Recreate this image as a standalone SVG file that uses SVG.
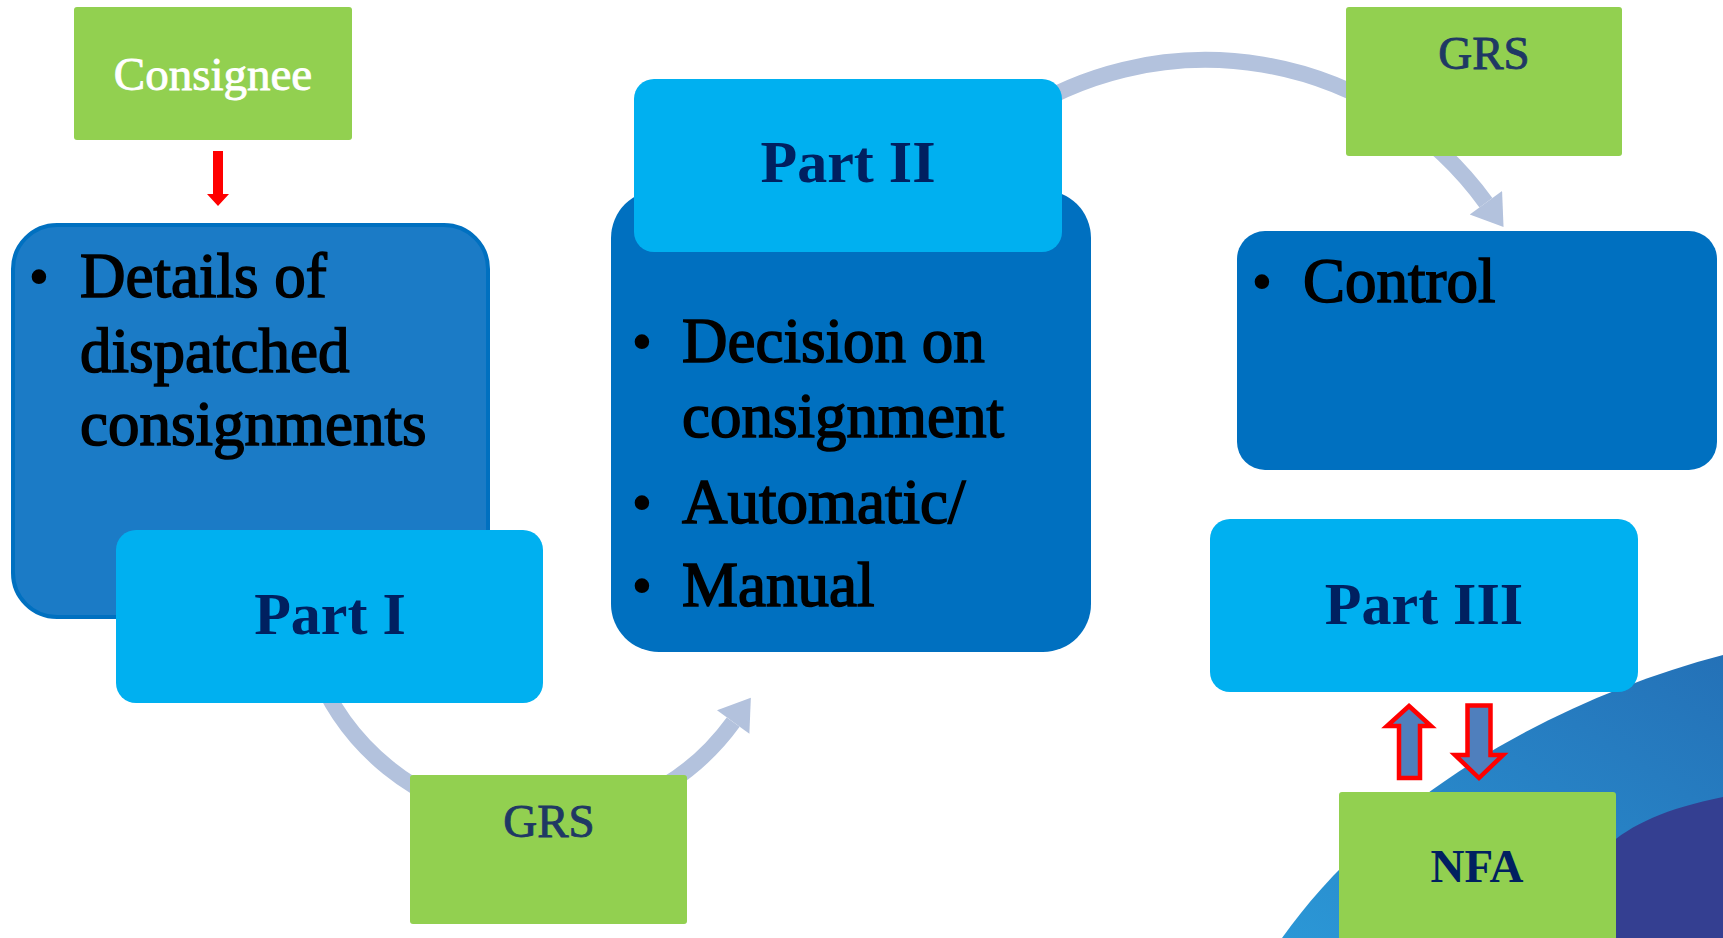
<svg xmlns="http://www.w3.org/2000/svg" width="1723" height="938" viewBox="0 0 1723 938">
<defs>
<linearGradient id="bgBlue" x1="0" y1="1" x2="1" y2="0">
<stop offset="0" stop-color="#2b97d6"/>
<stop offset="1" stop-color="#2471b7"/>
</linearGradient>
<marker id="arcHead" markerUnits="userSpaceOnUse" markerWidth="40" markerHeight="40" refX="0" refY="18" orient="auto" viewBox="0 0 30 36">
<path d="M0,0 L27,18 L0,36 Z" fill="#b3c2dd"/>
</marker>
<style>
.green{fill:#92d050}
.light{fill:#00b0f0}
.dark{fill:#0070c0}
.arc{fill:none;stroke:#b3c2dd;stroke-width:16}
.body{font-family:"Liberation Serif","DejaVu Serif",serif;font-size:63px;fill:#000;stroke:#000;stroke-width:1.6}
.part{font-family:"Liberation Serif","DejaVu Serif",serif;font-size:60px;font-weight:bold;fill:#002060;text-anchor:middle}
.lbl{font-family:"Liberation Serif","DejaVu Serif",serif;font-size:47px;text-anchor:middle;stroke-width:0.9}
.bul{font-family:"Liberation Serif","DejaVu Serif",serif;font-size:61px;text-anchor:middle;fill:#000}
.blk{fill:#4f7fbd;stroke:#ff0000;stroke-width:4.5}
</style>
</defs>
<g id="background">
<path d="M1282,938 C1380,800 1550,700 1723,655 L1723,938 Z" fill="url(#bgBlue)"/>
<path d="M1560,938 C1580,860 1610,820 1723,797 L1723,938 Z" fill="#343f91"/>
</g>
<g id="connectors">
<path class="arc" d="M313.5,663.1 A240,240 0 0 0 733.2,722.1" marker-end="url(#arcHead)"/>
<path class="arc" d="M1006.7,122.6 A346.6,346.6 0 0 1 1485.9,202.8" marker-end="url(#arcHead)"/>
<polygon points="213,151 223,151 223,194 229,194 218,206 207,194 213,194" fill="#ff0000"/>
<polygon class="blk" points="1409,706 1431,726 1420,726 1420,778 1399,778 1399,726 1387,726"/>
<polygon class="blk" points="1467.5,705.5 1490.5,705.5 1490.5,755 1503,755 1479,778 1455,755 1467.5,755"/>
</g>
<g id="details">
<rect x="13" y="225" width="475" height="392" rx="44" fill="#1b7bc6" stroke="#0070c0" stroke-width="4"/>
<text class="bul" x="39" y="297">•</text>
<text class="body" x="80" y="297">Details of</text>
<text class="body" x="80" y="372">dispatched</text>
<text class="body" x="80" y="445">consignments</text>
</g>
<g id="part1">
<rect class="light" x="116" y="530" width="427" height="173" rx="20"/>
<text class="part" x="330" y="634">Part I</text>
</g>
<g id="decision">
<rect class="dark" x="611" y="190" width="480" height="462" rx="48"/>
<text class="bul" x="642" y="362">•</text>
<text class="body" x="682" y="362">Decision on</text>
<text class="body" x="682" y="437">consignment</text>
<text class="bul" x="642" y="523">•</text>
<text class="body" x="682" y="523">Automatic/</text>
<text class="bul" x="642" y="606">•</text>
<text class="body" x="682" y="606">Manual</text>
</g>
<g id="part2">
<rect class="light" x="634" y="79" width="428" height="173" rx="20"/>
<text class="part" x="848" y="182">Part II</text>
</g>
<g id="control">
<rect class="dark" x="1237" y="231" width="480" height="239" rx="28"/>
<text class="bul" x="1262" y="302">•</text>
<text class="body" x="1303" y="302">Control</text>
</g>
<g id="part3">
<rect class="light" x="1210" y="519" width="428" height="173" rx="20"/>
<text class="part" x="1424" y="624">Part III</text>
</g>
<g id="consignee">
<rect class="green" x="74" y="7" width="278" height="133" rx="3"/>
<text class="lbl" x="213" y="90" fill="#ffffff" stroke="#ffffff">Consignee</text>
</g>
<g id="grs1">
<rect class="green" x="410" y="775" width="277" height="149" rx="3"/>
<text class="lbl" x="549" y="837" fill="#1f3864" stroke="#1f3864">GRS</text>
</g>
<g id="grs2">
<rect class="green" x="1346" y="7" width="276" height="149" rx="3"/>
<text class="lbl" x="1484" y="69" fill="#1f3864" stroke="#1f3864">GRS</text>
</g>
<g id="nfa">
<rect class="green" x="1339" y="792" width="277" height="156" rx="3"/>
<text class="lbl" x="1477" y="882" fill="#002060" font-weight="bold" font-size="46">NFA</text>
</g>
</svg>
